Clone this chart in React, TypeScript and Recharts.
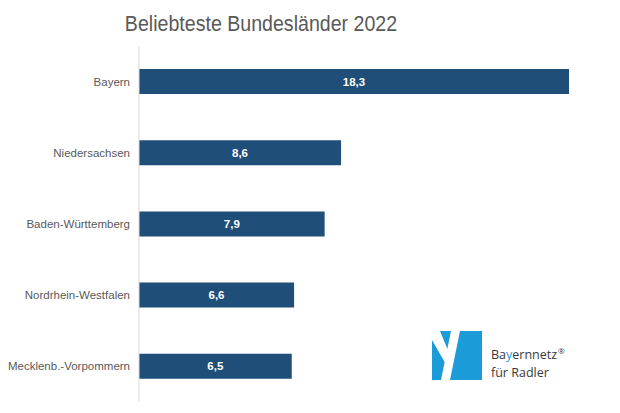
import React from "react";
import { BarChart, Bar, XAxis, YAxis, LabelList } from "recharts";

const categories = [
  "Bayern",
  "Niedersachsen",
  "Baden-Württemberg",
  "Nordrhein-Westfalen",
  "Mecklenb.-Vorpommern",
];
const values = [18.3, 8.6, 7.9, 6.6, 6.5];
const title = "Beliebteste Bundesländer 2022";

const data = categories.map((name, i) => ({ name, value: values[i] }));

const fmt = (v: any) => String(v).replace(".", ",");

export default function App() {
  return (
    <div
      style={{
        position: "absolute",
        left: 0,
        top: 0,
        width: 620,
        height: 413,
        background: "#fff",
      }}
    >
      <BarChart
        width={620}
        height={413}
        data={data}
        layout="vertical"
        margin={{ top: 46, right: 51, bottom: 11, left: 9 }}
      >
        <XAxis type="number" hide domain={[0, 18.3]} />
        <YAxis
          type="category"
          dataKey="name"
          width={130}
          axisLine={{ stroke: "#d9d9d9" }}
          tickLine={false}
          tickSize={0}
          tickMargin={9}
          tick={{
            fill: "#595959",
            fontSize: 11.5,
            fontFamily: "'Liberation Sans', Arial, sans-serif",
          }}
        />
        <Bar dataKey="value" fill="#1F4E79" barSize={25} isAnimationActive={false}>
          <LabelList
            dataKey="value"
            position="center"
            formatter={fmt}
            fill="#ffffff"
            style={{
              fontWeight: "bold",
              fontSize: 11.5,
              fontFamily: "'Liberation Sans', Arial, sans-serif",
            }}
          />
        </Bar>
      </BarChart>
      <svg
        width={620}
        height={413}
        style={{ position: "absolute", left: 0, top: 0, pointerEvents: "none" }}
      >
        <text
          transform="translate(261,31) scale(1,1.12)"
          textAnchor="middle"
          fontSize={19.6}
          fill="#595959"
          fontFamily="'Liberation Sans', Arial, sans-serif"
        >
          {title}
        </text>
        <g transform="translate(432,331)">
          <rect x={0} y={0} width={50} height={49} fill="#1B9BD7" />
          <polygon points="0,0 8,0 20,29 16,37 0,9" fill="#ffffff" />
          <polygon points="19,0 28,0 18,49 9,49" fill="#ffffff" />
        </g>
      </svg>
      <div
        style={{
          position: "absolute",
          left: 491,
          top: 346,
          fontFamily: "'Open Sans', 'Noto Sans', sans-serif",
          fontSize: 12.5,
          lineHeight: "17.5px",
          color: "#3a3a3a",
          whiteSpace: "nowrap",
        }}
      >
        <div style={{ display: "flex", alignItems: "flex-start", height: 17.5 }}>
          <span>Ba</span>
          <span style={{ color: "#1B9BD7" }}>y</span>
          <span>ernnetz</span>
          <span style={{ fontSize: 8, lineHeight: "8px", marginLeft: 1, marginTop: 1 }}>®</span>
        </div>
        <div>
          <span>für Radler</span>
        </div>
      </div>
    </div>
  );
}
